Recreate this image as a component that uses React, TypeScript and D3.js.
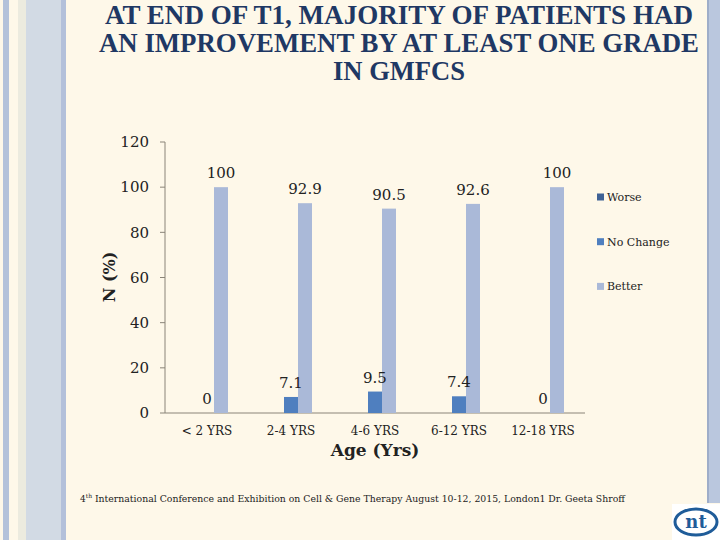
import * as d3 from 'd3';

const categories = ['< 2 YRS', '2-4 YRS', '4-6 YRS', '6-12 YRS', '12-18 YRS'];
const seriesNames = ['Worse', 'No Change', 'Better'];
const worse: (number | null)[] = [null, null, null, null, null];
const noChange = [0, 7.1, 9.5, 7.4, 0];
const better = [100, 92.9, 90.5, 92.6, 100];
const yTicks = [0, 20, 40, 60, 80, 100, 120];
const titleLines = [
  'AT END OF T1, MAJORITY OF PATIENTS HAD',
  'AN IMPROVEMENT BY AT LEAST ONE GRADE',
  'IN GMFCS',
];
const footer =
  'International Conference and Exhibition on Cell & Gene Therapy August 10-12, 2015, London1 Dr. Geeta Shroff';

const colors = ['#3f6296', '#4f7fbf', '#aab9d8'];
const serif = "'DejaVu Serif', 'Liberation Serif', serif";
const titleFont = "'Liberation Serif', 'DejaVu Serif', serif";

export default function App() {
  const W = 720;
  const H = 540;
  const margin = { left: 165, right: 585, top: 142, bottom: 413 };

  const x0 = d3.scaleBand().domain(categories).range([margin.left, margin.right]).paddingInner(0.5).paddingOuter(0.25);
  const x1 = d3.scaleBand().domain(seriesNames).range([0, x0.bandwidth()]);
  const y = d3.scaleLinear().domain([0, 120]).range([margin.bottom, margin.top]);

  const series = [worse, noChange, better];
  const marks = series.flatMap((vals, si) =>
    categories.map((c, ci) => ({ si, ci, v: vals[ci], bx: (x0(c) ?? 0) + (x1(seriesNames[si]) ?? 0) }))
  ).filter((m) => m.v != null) as { si: number; ci: number; v: number; bx: number }[];

  return (
    <div style={{ position: 'absolute', left: 0, top: 0 }}>
      <svg width={W} height={H} style={{ display: 'block' }}>
        {/* slide background */}
        <rect x={0} y={0} width={W} height={H} fill="#fef8e9" />
        <rect x={3} y={0} width={6} height={H} fill="#b4c2da" />
        <rect x={18} y={0} width={8} height={H} fill="#ecebdf" />
        <rect x={26} y={0} width={35} height={H} fill="#d2dae4" />
        <rect x={61} y={0} width={5} height={H} fill="#b3c0da" />
        <rect x={707} y={0} width={13} height={503} fill="#bac7de" />
        <rect x={707} y={0} width={2} height={503} fill="#9eadc9" />

        {/* title */}
        {titleLines.map((t, i) => (
          <text
            key={t}
            x={399}
            y={24 + i * 28}
            textAnchor="middle"
            fontFamily={titleFont}
            fontWeight="bold"
            fontSize={27}
            fill="#1f3864"
            textLength={i === 0 ? 588 : i === 1 ? 600 : 132}
            lengthAdjust="spacingAndGlyphs"
          >
            {t}
          </text>
        ))}

        {/* y axis */}
        <line x1={margin.left} x2={margin.left} y1={y(120)} y2={y(0)} stroke="#8a8478" strokeWidth={1} />
        {yTicks.map((t) => (
          <g key={t}>
            <line x1={margin.left - 5} x2={margin.left} y1={y(t)} y2={y(t)} stroke="#8a8478" />
            <text x={149} y={y(t)} dy="0.35em" textAnchor="end" fontFamily={serif} fontSize={15} fill="#222">
              {t}
            </text>
          </g>
        ))}

        {/* x axis */}
        <line x1={margin.left} x2={margin.right} y1={y(0)} y2={y(0)} stroke="#8a8478" strokeWidth={1} />
        {categories.map((c) => (
          <text
            key={c}
            x={(x0(c) ?? 0) + x0.bandwidth() / 2}
            y={431}
            dy="0.35em"
            textAnchor="middle"
            fontFamily={serif}
            fontSize={12}
            fill="#222"
          >
            {c}
          </text>
        ))}

        {/* bars */}
        {marks.map((m) => (
          <rect
            key={`b${m.si}-${m.ci}`}
            x={m.bx}
            y={y(m.v)}
            width={x1.bandwidth()}
            height={y(0) - y(m.v)}
            fill={colors[m.si]}
          />
        ))}
        {marks.map((m) => (
          <text
            key={`l${m.si}-${m.ci}`}
            x={m.bx + x1.bandwidth() / 2}
            y={y(m.v) - 9}
            textAnchor="middle"
            fontFamily={serif}
            fontSize={15}
            fill="#222"
          >
            {m.v}
          </text>
        ))}

        {/* axis titles */}
        <text x={375} y={456} textAnchor="middle" fontFamily={serif} fontWeight="bold" fontSize={17} fill="#222">
          Age (Yrs)
        </text>
        <text
          transform={`translate(115,${277}) rotate(-90)`}
          textAnchor="middle"
          fontFamily={serif}
          fontWeight="bold"
          fontSize={16}
          fill="#222"
        >
          N (%)
        </text>

        {/* legend */}
        {seriesNames.map((s, i) => (
          <g key={s} transform={`translate(597,${197 + i * 44.7})`}>
            <rect x={0} y={-3.5} width={7} height={7} fill={colors[i]} />
            <text x={10} y={0} dy="0.35em" fontFamily={serif} fontSize={11} fill="#222">
              {s}
            </text>
          </g>
        ))}

        {/* footer */}
        <text x={80} y={502} fontFamily={serif} fontSize={9} fill="#222">
          4<tspan dy={-4} fontSize={6}>th</tspan>
          <tspan dy={4}> </tspan>
          <tspan textLength={530} lengthAdjust="spacingAndGlyphs">{footer}</tspan>
        </text>

        {/* logo */}
        <rect x={672} y={504} width={48} height={36} fill="#ffffff" />
        <ellipse cx={696} cy={522} rx={21} ry={13} fill="none" stroke="#1f5c99" strokeWidth={3} />
        <text x={696} y={528} textAnchor="middle" fontFamily={serif} fontWeight="bold" fontSize={18} fill="#1f5c99">
          nt
        </text>
      </svg>
    </div>
  );
}
